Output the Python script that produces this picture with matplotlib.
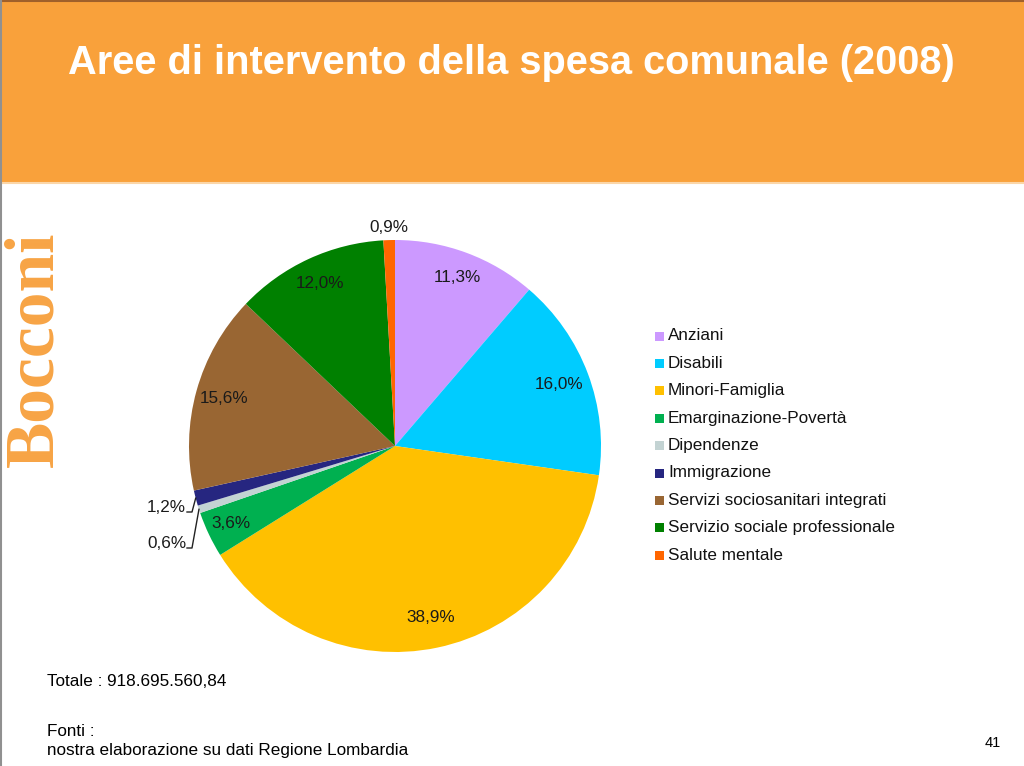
import numpy as np
import matplotlib.pyplot as plt
from matplotlib.patches import Rectangle

plt.rcParams['font.family'] = ['Liberation Sans', 'DejaVu Sans']

categories = ["Anziani", "Disabili", "Minori-Famiglia", "Emarginazione-Povertà",
              "Dipendenze", "Immigrazione", "Servizi sociosanitari integrati",
              "Servizio sociale professionale", "Salute mentale"]
values = [11.3, 16.0, 38.9, 3.6, 0.6, 1.2, 15.6, 12.0, 0.9]
colors = ["#CC99FF", "#00CCFF", "#FFC000", "#00B050", "#C3D3D3",
          "#262680", "#996633", "#008000", "#FF6600"]

title = "Aree di intervento della spesa comunale (2008)"
totale = "Totale : 918.695.560,84"
fonti = ["Fonti :", "nostra elaborazione su dati Regione Lombardia"]
page = "41"

W, H = 1024, 766
fig = plt.figure(figsize=(W / 100, H / 100), dpi=100)
ax = fig.add_axes([0, 0, 1, 1])

def Y(ypix):
    return H - ypix

# header band
ax.add_patch(Rectangle((0, Y(182)), W, 182, color="#F9A13B", zorder=1))
ax.plot([0, W], [Y(183), Y(183)], color="#FBD6A8", lw=1.5, zorder=2)
ax.plot([0, W], [Y(0.5), Y(0.5)], color="#A0602A", lw=1.5, zorder=2)
ax.plot([0.8, 0.8], [0, H], color="#909090", lw=1.5, zorder=2)
ax.text(511, Y(63), title, color="white", fontsize=28.6, fontweight="bold",
        ha="center", va="center", zorder=3)

# Bocconi logo text
ax.text(35, Y(349), "Bocconi", color="#F7A445", fontsize=50, fontweight="bold",
        family="Liberation Serif", rotation=90, ha="center", va="center")

# pie
cx, cy, r = 395, Y(446), 206
wedges, _ = ax.pie(values, colors=colors, startangle=90, counterclock=False,
                   center=(cx, cy), radius=r, frame=True,
                   wedgeprops=dict(linewidth=0))
ax.set_xlim(0, W)
ax.set_ylim(0, H)
ax.axis("off")

def fmt(v):
    return f"{v:.1f}%".replace(".", ",")

fs = 12.3
inside = {0: 0.87, 1: 0.85, 2: 0.85, 3: 0.88, 6: 0.86, 7: 0.87}
for i, w in enumerate(wedges):
    ang = np.deg2rad((w.theta1 + w.theta2) / 2)
    if i in inside:
        d = inside[i] * r
        ax.text(cx + d * np.cos(ang), cy + d * np.sin(ang), fmt(values[i]),
                fontsize=fs, ha="center", va="center", color="#1a1a1a")

# Salute mentale label above
w = wedges[8]
ang = np.deg2rad((w.theta1 + w.theta2) / 2)
ax.text(cx + 1.06 * r * np.cos(ang), cy + 1.06 * r * np.sin(ang), fmt(values[8]),
        fontsize=fs, ha="center", va="center", color="#1a1a1a")

# leader lines for Immigrazione and Dipendenze
for i, ly in [(5, 507), (4, 543)]:
    w = wedges[i]
    ang = np.deg2rad((w.theta1 + w.theta2) / 2)
    ex, ey = cx + r * 1.0 * np.cos(ang), cy + r * 1.0 * np.sin(ang)
    ax.plot([187, 192, ex], [Y(ly + 5), Y(ly + 5), ey], color="#222222", lw=1)
    ax.text(186, Y(ly), fmt(values[i]), fontsize=fs, ha="right", va="center",
            color="#1a1a1a")

# legend
for k, (name, c) in enumerate(zip(categories, colors)):
    yy = Y(336 + k * 27.4)
    ax.add_patch(Rectangle((655, yy - 4.5), 9, 9, color=c, lw=0))
    ax.text(668, yy, name, fontsize=12.3, ha="left", va="center", color="#111111")

# footer texts
ax.text(47, Y(681), totale, fontsize=12.3, ha="left", va="center")
ax.text(47, Y(732), fonti[0], fontsize=12.3, ha="left", va="center")
ax.text(47, Y(750), fonti[1], fontsize=12.3, ha="left", va="center")
ax.text(993, Y(743), page, fontsize=10.5, ha="center", va="center")

fig.savefig("out.png", dpi=100)
